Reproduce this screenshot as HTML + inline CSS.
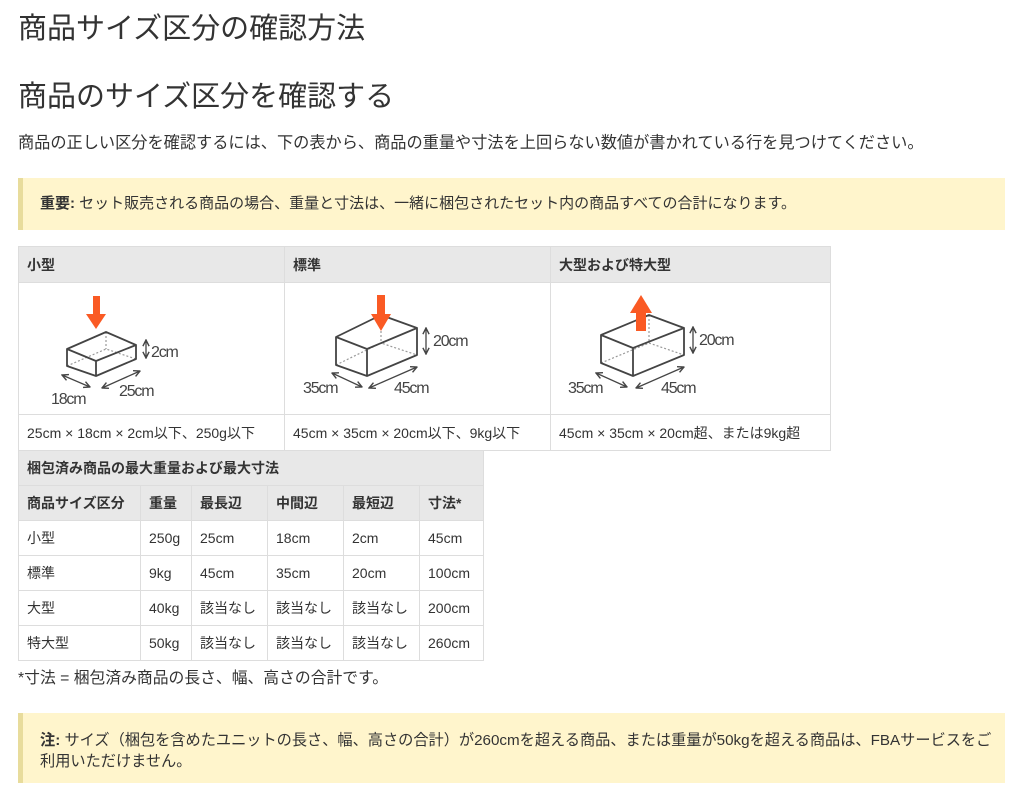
<!DOCTYPE html>
<html><head><meta charset="utf-8"><style>
*{margin:0;padding:0;box-sizing:border-box}
body{width:1024px;height:795px;background:#fff;font-family:"Liberation Sans","Noto Sans CJK JP",sans-serif;color:#333;position:relative;overflow:hidden}
.a{position:absolute;white-space:nowrap}
h1{position:absolute;left:18px;top:5px;font-size:29px;font-weight:normal;color:#333;white-space:nowrap}
h2{position:absolute;left:18px;top:73px;font-size:29px;font-weight:normal;color:#333;white-space:nowrap}
.note{position:absolute;left:18px;width:987px;background:#fff5cc;border-left:5px solid #e8dc9c;color:#333;padding-left:17px}
table{position:absolute;border-collapse:collapse;font-size:14px;color:#333}
td,th{border:1px solid #ddd;text-align:left;padding:0 8px;font-weight:normal;white-space:nowrap}
th{background:#e8e8e8;font-weight:bold}
svg text{font-family:"Liberation Sans",sans-serif;font-size:16px;fill:#444;letter-spacing:-1.2px}
</style></head><body>
<svg width="0" height="0" style="position:absolute"><defs>
<marker id="m" viewBox="0 0 10 10" refX="9" refY="5" markerWidth="6" markerHeight="6" orient="auto"><path d="M1 1L9 5L1 9" fill="none" stroke="#444" stroke-width="1.8"/></marker>
<marker id="s" viewBox="0 0 10 10" refX="1" refY="5" markerWidth="6" markerHeight="6" orient="auto"><path d="M9 1L1 5L9 9" fill="none" stroke="#444" stroke-width="1.8"/></marker>
</defs></svg>
<h1>商品サイズ区分の確認方法</h1>
<h2>商品のサイズ区分を確認する</h2>
<div class="a" style="left:18px;top:129px;font-size:16.2px">商品の正しい区分を確認するには、下の表から、商品の重量や寸法を上回らない数値が書かれている行を見つけてください。</div>
<div class="note" style="top:178px;height:52px;line-height:52px;font-size:15px"><b>重要:</b> セット販売される商品の場合、重量と寸法は、一緒に梱包されたセット内の商品すべての合計になります。</div>
<table style="left:18px;top:246px;width:813px">
<tr style="height:36px"><th style="width:266px">小型</th><th style="width:266px">標準</th><th>大型および特大型</th></tr>
<tr style="height:132px">
<td style="padding:0"><svg width="265" height="131" style="display:block">
<g stroke="#999" stroke-dasharray="2 2" fill="none" stroke-width="1.2"><path d="M87 49v17M48 83L87 66L117 76"/></g>
<g stroke="#444" stroke-width="1.8" fill="none" stroke-linejoin="round"><path d="M48 66L87 49L117 62L77 78Z M48 66V83L77 93V78 M117 62V76L77 93"/></g>
<path d="M74 13h7v18h6L77 46L67 31h7z" fill="#fa5a24"/>
<g stroke="#444" stroke-width="1.3" fill="none" marker-start="url(#s)" marker-end="url(#m)"><path d="M127 57v18"/><path d="M43 92L71 104"/><path d="M83 105L121 88"/></g>
<text x="132" y="74">2cm</text><text x="32" y="121">18cm</text><text x="100" y="113">25cm</text></svg></td>
<td style="padding:0"><svg width="265" height="131" style="display:block">
<g stroke="#999" stroke-dasharray="2 2" fill="none" stroke-width="1.2"><path d="M96 32v28M51 82L96 60L132 72"/></g>
<g stroke="#444" stroke-width="1.8" fill="none" stroke-linejoin="round"><path d="M51 54L96 32L132 45L82 66Z M51 54V82L82 93V66 M132 45V72L82 93"/></g>
<path d="M92 12h8v19h6L96 48L86 31h6z" fill="#fa5a24"/>
<g stroke="#444" stroke-width="1.3" fill="none" marker-start="url(#s)" marker-end="url(#m)"><path d="M141 45v26"/><path d="M47 90L77 104"/><path d="M84 105L132 84"/></g>
<text x="148" y="63">20cm</text><text x="18" y="110">35cm</text><text x="109" y="110">45cm</text></svg></td>
<td style="padding:0"><svg width="278" height="131" style="display:block">
<g stroke="#999" stroke-dasharray="2 2" fill="none" stroke-width="1.2"><path d="M98 32v28M50 80L98 60L133 72"/></g>
<g stroke="#444" stroke-width="1.8" fill="none" stroke-linejoin="round"><path d="M50 52L98 32L133 45L82 65Z M50 52V80L82 93V65 M133 45V72L82 93"/></g>
<path d="M85 48V30h-6L90 12L101 30h-6v18z" fill="#fa5a24"/>
<g stroke="#444" stroke-width="1.3" fill="none" marker-start="url(#s)" marker-end="url(#m)"><path d="M142 44v26"/><path d="M45 90L76 104"/><path d="M85 105L133 84"/></g>
<text x="148" y="62">20cm</text><text x="17" y="110">35cm</text><text x="110" y="110">45cm</text></svg></td></tr>
<tr style="height:36px"><td>25cm × 18cm × 2cm以下、250g以下</td><td>45cm × 35cm × 20cm以下、9kg以下</td><td>45cm × 35cm × 20cm超、または9kg超</td></tr>
</table>
<table style="left:18px;top:450px;width:466px">
<tr style="height:35px"><th colspan="6">梱包済み商品の最大重量および最大寸法</th></tr>
<tr style="height:35px"><th style="width:122px">商品サイズ区分</th><th style="width:51px">重量</th><th style="width:76px">最長辺</th><th style="width:76px">中間辺</th><th style="width:76px">最短辺</th><th>寸法*</th></tr>
<tr style="height:35px"><td>小型</td><td>250g</td><td>25cm</td><td>18cm</td><td>2cm</td><td>45cm</td></tr>
<tr style="height:35px"><td>標準</td><td>9kg</td><td>45cm</td><td>35cm</td><td>20cm</td><td>100cm</td></tr>
<tr style="height:35px"><td>大型</td><td>40kg</td><td>該当なし</td><td>該当なし</td><td>該当なし</td><td>200cm</td></tr>
<tr style="height:35px"><td>特大型</td><td>50kg</td><td>該当なし</td><td>該当なし</td><td>該当なし</td><td>260cm</td></tr>
</table>
<div class="a" style="left:18px;top:665px;font-size:15.8px">*寸法 = 梱包済み商品の長さ、幅、高さの合計です。</div>
<div class="note" style="top:713px;height:70px;padding-top:17px;line-height:21px;font-size:15.2px"><b>注:</b> サイズ（梱包を含めたユニットの長さ、幅、高さの合計）が260cmを超える商品、または重量が50kgを超える商品は、FBAサービスをご<br>利用いただけません。</div>
</body></html>
